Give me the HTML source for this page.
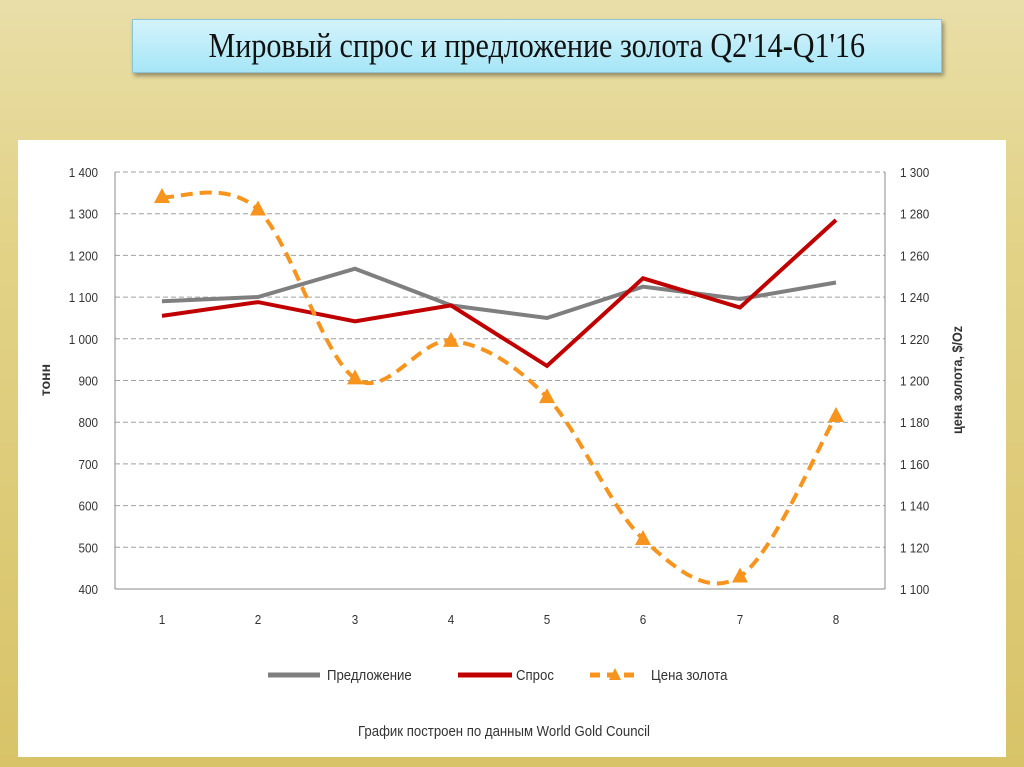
<!DOCTYPE html>
<html><head><meta charset="utf-8"><style>
body{margin:0;width:1024px;height:767px;overflow:hidden;background:linear-gradient(180deg,#e9dea8 0%,#e2d388 30%,#d8c368 100%);font-family:"Liberation Sans",sans-serif;position:relative}
.title{position:absolute;left:132px;top:19px;width:808px;height:52px;background:linear-gradient(180deg,#d4f3fb,#a6e6f7);border:1px solid #8cc6d6;box-shadow:2px 3px 4px rgba(0,0,0,.35);text-align:center;line-height:52px;color:#111;overflow:hidden}
.title span{display:inline-block;font-family:"Liberation Serif",serif;font-size:35px;transform:scaleX(0.86);white-space:nowrap}
.chart{position:absolute;left:18px;top:140px;width:988px;height:617px;background:#fff}
</style></head><body>
<div class="title"><span>Мировый спрос и предложение золота Q2'14-Q1'16</span></div>
<div class="chart"></div>
<svg width="1024" height="767" style="position:absolute;left:0;top:0" font-family="Liberation Sans, sans-serif">
<g stroke="#a0a0a0" stroke-dasharray="5,3" stroke-width="1">
<line x1="115" x2="885" y1="172" y2="172"/><line x1="115" x2="885" y1="213.7" y2="213.7"/><line x1="115" x2="885" y1="255.4" y2="255.4"/><line x1="115" x2="885" y1="297.1" y2="297.1"/><line x1="115" x2="885" y1="338.8" y2="338.8"/><line x1="115" x2="885" y1="380.5" y2="380.5"/><line x1="115" x2="885" y1="422.2" y2="422.2"/><line x1="115" x2="885" y1="463.9" y2="463.9"/><line x1="115" x2="885" y1="505.6" y2="505.6"/><line x1="115" x2="885" y1="547.3" y2="547.3"/>
</g>
<g stroke="#888" fill="none"><line x1="115" x2="115" y1="172" y2="589"/><line x1="885" x2="885" y1="172" y2="589"/><line x1="115" x2="885" y1="589" y2="589"/></g>
<g font-size="13" fill="#333" text-anchor="end" id="ly"></g>
<g font-size="13" fill="#333" text-anchor="start" id="ry"></g>
<g font-size="13" fill="#333" text-anchor="middle" id="xl"></g>
<text x="50" y="380" font-size="14" fill="#333" font-weight="bold" transform="rotate(-90 50 380)" text-anchor="middle">тонн</text>
<text x="0" y="0" font-size="14" fill="#333" font-weight="bold" transform="translate(962 380) rotate(-90) scale(0.9 1)" text-anchor="middle">цена золота, $/Oz</text>
<polyline fill="none" stroke="#7f7f7f" stroke-width="4" points="162,301.3 258,297 355,268.7 451,305.4 547,318 643,286.7 740,299 836,282.5"/>
<polyline fill="none" stroke="#c00000" stroke-width="4" points="162,315.9 258,302.1 355,321.3 451,305.4 547,365.9 643,278.3 740,307.5 836,220"/>
<path id="pr" fill="none" stroke="#f7941d" stroke-width="4" stroke-dasharray="12,7"/>
<g id="mk" fill="#f7941d"></g>
<line x1="268" x2="320" y1="675" y2="675" stroke="#7f7f7f" stroke-width="5"/>
<text font-size="15" fill="#333" transform="translate(327 680) scale(0.88 1)">Предложение</text>
<line x1="458" x2="512" y1="675" y2="675" stroke="#c00000" stroke-width="5"/>
<text font-size="15" fill="#333" transform="translate(516 680) scale(0.88 1)">Спрос</text>
<line x1="590" x2="640" y1="675" y2="675" stroke="#f7941d" stroke-width="5" stroke-dasharray="10,7"/>
<polygon points="615,668 621,680 609,680" fill="#f7941d"/>
<text font-size="15" fill="#333" transform="translate(651 680) scale(0.88 1)">Цена золота</text>
<text font-size="15" fill="#333" text-anchor="middle" transform="translate(504 736) scale(0.88 1)">График построен по данным World Gold Council</text>
</svg>
<script>
var ns="http://www.w3.org/2000/svg";
function t(g,x,y,s){var e=document.createElementNS(ns,"text");e.setAttribute("transform","translate("+x+" "+y+") scale(0.9 1)");e.textContent=s;document.getElementById(g).appendChild(e);}
function f(n){var s=String(n);return s.length>3?s.slice(0,-3)+" "+s.slice(-3):s;}
for(var i=0;i<=10;i++){var y=589-i*41.7;t("ly",98,y+5,f(400+i*100));}
for(var i=0;i<=10;i++){var y=589-i*41.7;t("ry",900,y+5,f(1100+i*20));}
var xs=[162,258,355,451,547,643,740,836];
for(var i=0;i<8;i++)t("xl",xs[i],624,i+1);
var pv=[1288,1282,1201,1219,1192,1124,1106,1183];
var p=pv.map(function(v,i){return [xs[i],589-(v-1100)*417/200];});
var d="M"+p[0][0]+","+p[0][1];
for(var i=0;i<p.length-1;i++){var p0=p[Math.max(i-1,0)],p1=p[i],p2=p[i+1],p3=p[Math.min(i+2,p.length-1)];
d+=" C"+(p1[0]+(p2[0]-p0[0])/6)+","+(p1[1]+(p2[1]-p0[1])/6)+" "+(p2[0]-(p3[0]-p1[0])/6)+","+(p2[1]-(p3[1]-p1[1])/6)+" "+p2[0]+","+p2[1];}
document.getElementById("pr").setAttribute("d",d);
p.forEach(function(q){var e=document.createElementNS(ns,"polygon");e.setAttribute("points",q[0]+","+(q[1]-9)+" "+(q[0]+8)+","+(q[1]+6)+" "+(q[0]-8)+","+(q[1]+6));document.getElementById("mk").appendChild(e);});
</script>
</body></html>
